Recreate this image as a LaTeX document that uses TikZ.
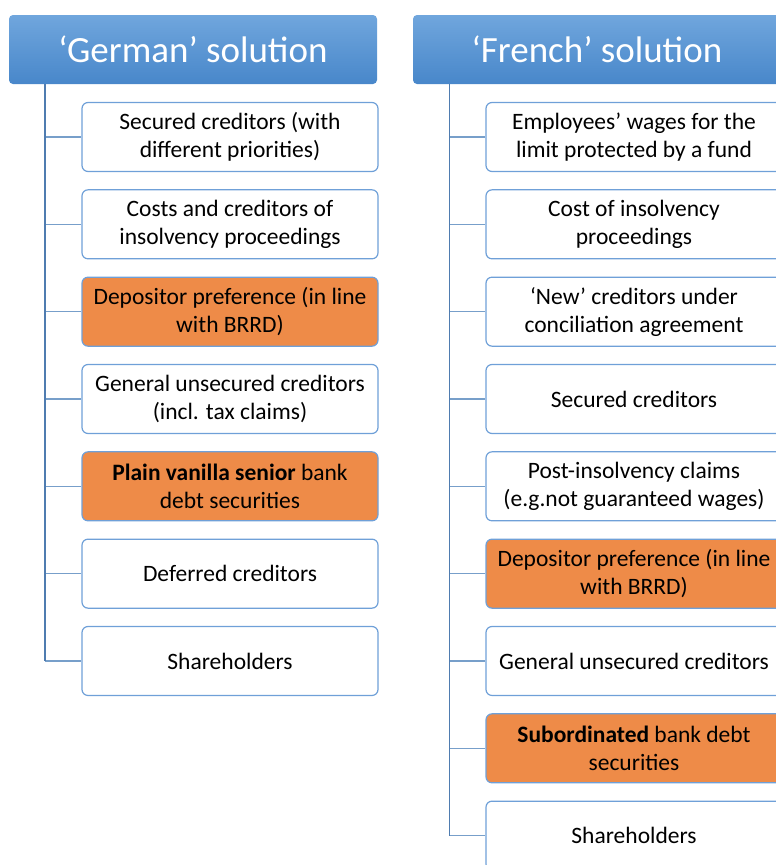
\documentclass[tikz,border=0pt]{standalone}
\usepackage{fontspec}
\setmainfont{Carlito}
\usetikzlibrary{positioning}
\definecolor{headtop}{HTML}{70A6DD}
\definecolor{headbot}{HTML}{4887CA}
\definecolor{boxline}{HTML}{6FA0D8}
\definecolor{trunkline}{HTML}{4F7CB0}
\definecolor{treeline}{HTML}{779FCA}
\definecolor{hotfill}{HTML}{EE8B48}

\tikzset{
  head/.style={rounded corners=4pt, top color=headtop, bottom color=headbot,
    minimum width=368pt, minimum height=69pt, inner sep=0pt,
    text=white, font=\fontsize{37}{41}\selectfont},
  item/.style={draw=boxline, line width=1.2pt, rounded corners=6pt, fill=white,
    minimum width=296pt, minimum height=69pt, inner sep=0pt, align=center,
    text=black, font=\fontsize{23.5}{28}\selectfont},
  hot/.style={item, fill=hotfill},
  trunk/.style={draw=trunkline, line width=1.6pt},
  branch/.style={draw=treeline, line width=1.6pt}
}

\begin{document}
\begin{tikzpicture}[x=1pt, y=-1pt]
\useasboundingbox (0,0) rectangle (776,865);
\clip (0,0) rectangle (776,865);

%headers
\node[head] (ghead) at (193,49.5) {‘German’ solution};
\node[head] (fhead) at (597,49.5) {‘French’ solution};
\coordinate (groot) at (45,84);
\coordinate (froot) at (449.5,84);

%german ranking
\foreach \txt/\sty [count=\i] in {
  {Secured creditors (with\\different priorities)}/item,
  {Costs and creditors of\\insolvency proceedings}/item,
  {Depositor preference (in line\\with BRRD)}/hot,
  {General unsecured creditors\\(incl. tax claims)}/item,
  {{\bfseries Plain vanilla senior} bank\\debt securities}/hot,
  {Deferred creditors}/item,
  {Shareholders}/item}{
   \node[\sty] (g\i) at (230,137+87.33*\i-87.33) {\txt};
   \draw[branch] (groot |- g\i.west) -- (g\i.west);
}
\draw[trunk] (groot) -- (groot |- g7.west);

%french ranking
\foreach \txt/\sty [count=\i] in {
  {Employees’ wages for the\\limit protected by a fund}/item,
  {Cost of insolvency\\proceedings}/item,
  {‘New’ creditors under\\conciliation agreement}/item,
  {Secured creditors}/item,
  {Post-insolvency claims\\(e.g.not guaranteed wages)}/item,
  {Depositor preference (in line\\with BRRD)}/hot,
  {General unsecured creditors}/item,
  {{\bfseries Subordinated} bank debt\\securities}/hot,
  {Shareholders}/item}{
   \node[\sty] (f\i) at (634,137+87.33*\i-87.33) {\txt};
   \draw[branch] (froot |- f\i.west) -- (f\i.west);
}
\draw[trunk] (froot) -- (froot |- f9.west);
\end{tikzpicture}
\end{document}
